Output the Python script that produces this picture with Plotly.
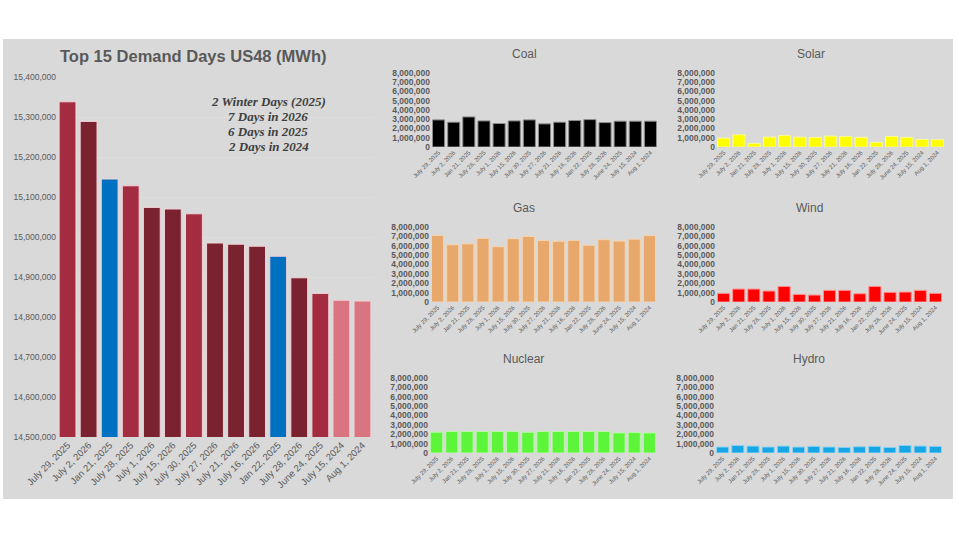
import plotly.graph_objects as go

W, H = 958, 539

# ---- data ----
days = ["July 29, 2025", "July 2, 2026", "Jan 21, 2025", "July 28, 2025", "July 1, 2026",
        "July 15, 2026", "July 30, 2025", "July 27, 2026", "July 21, 2026", "July 16, 2026",
        "Jan 22, 2025", "July 28, 2026", "June 24, 2025", "July 15, 2024", "Aug 1, 2024"]

demand = [15338000, 15289000, 15145000, 15128000, 15074000, 15070000, 15058000, 14985000,
          14982000, 14977000, 14952000, 14898000, 14859000, 14842000, 14840000]

# which group each day falls in (drives bar colour)
group = ["2025", "2026", "winter", "2025", "2026", "2026", "2025", "2026",
         "2026", "2026", "winter", "2026", "2025", "2024", "2024"]

coal = [2930000, 2680000, 3250000, 2820000, 2540000, 2820000, 2930000, 2500000,
        2680000, 2860000, 2960000, 2640000, 2790000, 2790000, 2790000]
solar = [960000, 1320000, 390000, 1070000, 1250000, 1070000, 1040000, 1180000,
         1140000, 1040000, 500000, 1140000, 1040000, 820000, 790000]
gas = [7100000, 6100000, 6200000, 6800000, 5900000, 6750000, 7000000, 6550000,
       6480000, 6580000, 6050000, 6650000, 6500000, 6700000, 7080000]
wind = [920000, 1380000, 1380000, 1170000, 1660000, 810000, 740000, 1240000,
        1240000, 880000, 1660000, 1030000, 1060000, 1240000, 920000]
nuclear = [2210000, 2290000, 2290000, 2290000, 2290000, 2290000, 2210000, 2290000,
           2290000, 2290000, 2290000, 2290000, 2140000, 2180000, 2140000]
hydro = [640000, 810000, 740000, 640000, 740000, 640000, 710000, 640000,
         600000, 670000, 710000, 600000, 810000, 740000, 710000]

note_lines = ["2 Winter Days (2025)", "7 Days in 2026", "6 Days in 2025", "2 Days in 2024"]

group_colors = {"2025": "#a32c40", "2026": "#7a2230", "winter": "#0070c0", "2024": "#d97481"}

# name, values, fill, outline, x-range px, y-range px (top, bottom)
panels = [
    ("Coal", coal, "#000000", "#8c8c8c", (431, 658), (73, 147)),
    ("Solar", solar, "#ffff00", "#fafa9a", (716, 945), (73, 147)),
    ("Gas", gas, "#e8a86c", "#f6d3ad", (430, 657), (227, 302)),
    ("Wind", wind, "#ff0000", "#ff8f8f", (716, 943), (227, 302)),
    ("Nuclear", nuclear, "#5cf53a", "#b4fba4", (429, 657), (378, 453)),
    ("Hydro", hydro, "#16a6e6", "#8fd3f3", (715, 943), (378, 453)),
]

txt_grey = "#595959"


def xdom(a, b):
    return [a / W, b / W]


def ydom(top, bottom):
    return [1 - bottom / H, 1 - top / H]


fig = go.Figure()

# main demand chart
fig.add_trace(go.Bar(
    x=days, y=demand,
    marker=dict(color=[group_colors[g] for g in group],
                line=dict(color="#f3d3d8", width=1)),
    xaxis="x", yaxis="y", showlegend=False,
))

layout = dict(
    width=W, height=H,
    margin=dict(l=0, r=0, t=0, b=0),
    paper_bgcolor="white",
    plot_bgcolor="#f3f3f3",
    font=dict(family="Liberation Sans, Arial", color=txt_grey),
    bargap=0.2,
    xaxis=dict(domain=xdom(57, 373), anchor="y", tickangle=-45, automargin=False,
               tickfont=dict(size=9.5, color=txt_grey), showgrid=False,
               showline=False, ticks=""),
    yaxis=dict(domain=ydom(77, 437), anchor="x", range=[14500000, 15400000],
               dtick=100000, tickformat=",", tickfont=dict(size=8.5, color=txt_grey),
               gridcolor="#dedede", zeroline=False, showline=False, automargin=False),
)

annotations = [dict(
    text="Top 15 Demand Days US48 (MWh)", x=193 / W, y=1 - 56 / H,
    xref="paper", yref="paper", showarrow=False, xanchor="center", yanchor="middle",
    font=dict(size=16.5, color=txt_grey, weight="bold"),
)]

for i, line in enumerate(note_lines):
    annotations.append(dict(
        text=line, x=268 / W, y=1 - (102 + i * 14.7) / H,
        xref="paper", yref="paper", showarrow=False, xanchor="center", yanchor="middle",
        font=dict(family="Liberation Serif, Times New Roman", size=13, color="#404040",
                  weight="bold", style="italic"),
    ))

for k, (name, vals, fill, edge, xr, yr) in enumerate(panels, start=2):
    fig.add_trace(go.Bar(
        x=days, y=vals,
        marker=dict(color=fill, line=dict(color=edge, width=1)),
        xaxis=f"x{k}", yaxis=f"y{k}", showlegend=False,
    ))
    layout[f"xaxis{k}"] = dict(domain=xdom(*xr), anchor=f"y{k}", tickangle=-45,
                               tickfont=dict(size=6, color=txt_grey), automargin=False,
                               showgrid=False, ticks="", showline=False)
    layout[f"yaxis{k}"] = dict(domain=ydom(*yr), anchor=f"x{k}", range=[0, 8000000],
                               dtick=1000000, tickformat=",", automargin=False,
                               tickfont=dict(size=8.5, color=txt_grey, weight="bold"),
                               gridcolor="#d9d9d9", zeroline=False, showline=False)
    cx = (xr[0] - 45 + xr[1] + 5) / 2
    annotations.append(dict(
        text=name, x=cx / W, y=1 - (yr[0] - 19) / H,
        xref="paper", yref="paper", showarrow=False, xanchor="center", yanchor="middle",
        font=dict(size=12, color=txt_grey),
    ))

layout["annotations"] = annotations
layout["shapes"] = [dict(type="rect", xref="paper", yref="paper",
                         x0=3 / W, x1=953 / W, y0=1 - 499 / H, y1=1 - 39 / H,
                         fillcolor="#d9d9d9", line=dict(width=0), layer="below")]

fig.update_layout(**layout)
# drop the default page margin so the figure sits at the window corner
fig.write_html("out.html", config={"displayModeBar": False},
               post_script="document.body.style.margin='0';")
